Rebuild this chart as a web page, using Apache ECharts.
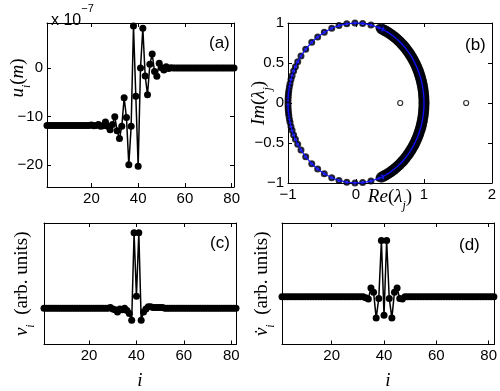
<!DOCTYPE html>
<html>
<head>
<meta charset="utf-8">
<script src="https://cdn.jsdelivr.net/npm/echarts/dist/echarts.min.js"></script>
<style>
  html, body { margin: 0; padding: 0; background: #fff; }
  #chart { width: 500px; height: 391px; }
</style>
</head>
<body>
<div id="chart"></div>
<script>
// (a) displacement u_i, in units of 1e-7 m, i = 1..81
const uVals = [
  -11.8, -11.8, -11.8, -11.8, -11.8, -11.8, -11.8, -11.8, -11.8, -11.8,
  -11.8, -11.8, -11.8, -11.8, -11.8, -11.8, -11.8, -11.8, -11.8, -11.7,
  -11.9, -11.8, -11.6, -12.0, -11.9, -11.1, -12.0, -12.7, -11.6, -10.0,
  -12.9, -14.5, -12.0, -6.1, -10.2, -19.9, -12.0, 8.7, -5.8, -20.2,
  0.0, 8.2, -1.6, -5.5, 0.8, 2.9, -0.7, -1.7, 1.0, 0.1,
  -0.4, 0.3, -0.1, 0.1, 0, 0, 0, 0, 0, 0,
  0, 0, 0, 0, 0, 0, 0, 0, 0, 0,
  0, 0, 0, 0, 0, 0, 0, 0, 0, 0,
  0
]
// (c) v_i, arbitrary units, i = 1..82
const vVals = [
  0, 0, 0, 0, 0, 0, 0, 0, 0, 0,
  0, 0, 0, 0, 0, 0, 0, 0, 0, 0,
  0, 0, 0, 0, 0, 0, 0, 0, 0.01, -0.01,
  -0.02, -0.05, -0.01, -0.02, 0.0, -0.03, -0.07, -0.16, 1.0, 0.16,
  1.0, -0.16, -0.05, -0.01, 0.02, 0.02, 0.01, 0.01, 0.01, 0.01,
  0.01, 0, 0, 0, 0, 0, 0, 0, 0, 0,
  0, 0, 0, 0, 0, 0, 0, 0, 0, 0,
  0, 0, 0, 0, 0, 0, 0, 0, 0, 0,
  0, 0
]
// (d) dv_i/dt, arbitrary units, i = 1..82
const vdotVals = [
  0, 0, 0, 0, 0, 0, 0, 0, 0, 0,
  0, 0, 0, 0, 0, 0, 0, 0, 0, 0,
  0, 0, 0, 0, 0, 0, 0, 0, 0, 0,
  0, 0, -0.02, -0.04, 0.155, 0.08, -0.38, -0.03, 1.0, -0.33,
  1.0, -0.03, -0.38, 0.08, 0.155, -0.03, -0.04, 0, 0, 0,
  0, 0, 0, 0, 0, 0, 0, 0, 0, 0,
  0, 0, 0, 0, 0, 0, 0, 0, 0, 0,
  0, 0, 0, 0, 0, 0, 0, 0, 0, 0,
  0, 0
]
// (b) Floquet multipliers on the unit circle, angles in degrees (upper half);
// the lower half is the complex conjugate set
const denseAngles = [
  0.5, 2, 3.6, 5, 6.4, 8, 9.5, 11, 12.6, 14, 15.5, 17, 18.6, 20, 21.5, 23,
  24.4, 26, 27.5, 29, 30.6, 32, 33.5, 35, 36.4, 38, 39.5, 41, 42.6, 44, 45.5,
  47, 48.5, 50, 51.6, 53, 54.5, 56, 57.4, 59, 60.5, 62, 63.6, 65, 66.5, 68
]
const sparseAngles = [
  70.3, 77.3, 84.4, 90.9, 97.8, 104.5, 110.9, 117.8, 124.3, 130.6, 137.7,
  144, 149, 153, 156.5, 160, 163, 166, 168.5, 171, 173, 175, 177, 179
]
// (b) the two real multipliers
const lamReal = [0.65, 1.62]

const iTicks = [20, 40, 60, 80]
const uTicks = [-20, -10, 0]

const idx = arr => arr.map((v, k) => [k + 1, v])
const toXY = a => [Math.cos(a * Math.PI / 180), Math.sin(a * Math.PI / 180)]
const both = arr => arr.concat(arr.map(a => -a))

const densePts = both(denseAngles).map(toXY)
const sparsePts = both(sparseAngles).map(toXY)
const circlePts = both(denseAngles.concat(sparseAngles)).sort((p, q) => p - q).map(toXY)

const tickFont = { color: '#000', fontSize: 15, fontFamily: 'Liberation Sans' }
const minus = v => String(v).replace('-', '\u2212')

const serifRich = {
  it: { fontFamily: 'Liberation Serif', fontStyle: 'italic', fontSize: 19, lineHeight: 30, color: '#000' },
  rm: { fontFamily: 'Liberation Serif', fontSize: 19, lineHeight: 30, color: '#000' },
  sub: { fontFamily: 'Liberation Serif', fontStyle: 'italic', fontSize: 12, lineHeight: 30, verticalAlign: 'bottom', color: '#000' }
}

function xAx(grid, min, max, opts) {
  return Object.assign({
    gridIndex: grid, type: 'value', min: min, max: max, position: 'bottom',
    nameMoveOverlap: false,
    axisLine: { show: true, onZero: false, lineStyle: { color: '#000', width: 1 } },
    axisTick: { show: true, inside: true, length: 4, lineStyle: { color: '#000' } },
    axisLabel: { show: true, margin: 4, ...tickFont, formatter: minus },
    splitLine: { show: false }
  }, opts)
}
function yAx(grid, min, max, opts) {
  return Object.assign({
    gridIndex: grid, type: 'value', min: min, max: max, position: 'left',
    nameMoveOverlap: false,
    axisLine: { show: true, onZero: false, lineStyle: { color: '#000', width: 1 } },
    axisTick: { show: true, inside: true, length: 4, lineStyle: { color: '#000' } },
    axisLabel: { show: true, margin: 4, ...tickFont, formatter: minus },
    splitLine: { show: false }
  }, opts)
}

const iTickOpts = {
  axisTick: { show: true, inside: true, length: 4, customValues: iTicks, lineStyle: { color: '#000' } },
  axisLabel: { show: true, margin: 4, ...tickFont, customValues: iTicks }
}
const panelFont = { fontSize: 17, fontWeight: 'normal', fontFamily: 'Liberation Sans', color: '#000' }

const chart = echarts.init(document.getElementById('chart'))
chart.setOption({
  animation: false,
  backgroundColor: '#fff',
  title: [
    { text: '(a)', left: 204, top: 30, textStyle: panelFont },
    { text: '(b)', left: 460, top: 32, textStyle: panelFont },
    { text: '(c)', left: 205, top: 230, textStyle: panelFont },
    { text: '(d)', left: 454, top: 232, textStyle: panelFont },
    {
      text: '{a|x 10}{b|\u22127}', left: 46, top: -2,
      textStyle: {
        fontWeight: 'normal',
        rich: {
          a: { fontSize: 16, fontWeight: 'normal', fontFamily: 'Liberation Sans', color: '#000', lineHeight: 26, verticalAlign: 'bottom' },
          b: { fontSize: 11, fontWeight: 'normal', fontFamily: 'Liberation Sans', color: '#000', lineHeight: 26, verticalAlign: 'top' }
        }
      }
    }
  ],
  grid: [
    { left: 47, top: 23, width: 187, height: 164 },
    { left: 288, top: 23, width: 204, height: 160 },
    { left: 44, top: 223, width: 192, height: 130 },
    { left: 282, top: 223, width: 215, height: 131 }
  ],
  xAxis: [
    xAx(0, 1, 81, iTickOpts),
    xAx(1, -1, 2, {
      interval: 1,
      name: '{it|Re}{rm|(}{it|\u03bb}{sub|j}{rm|)}', nameLocation: 'middle', nameGap: -1,
      nameTextStyle: { rich: serifRich }
    }),
    xAx(2, 1, 82, Object.assign({
      name: '{it|i}', nameLocation: 'middle', nameGap: 21, nameTextStyle: { rich: serifRich }
    }, iTickOpts)),
    xAx(3, 1, 82, Object.assign({
      name: '{it|i}', nameLocation: 'middle', nameGap: 21, nameTextStyle: { rich: serifRich }
    }, iTickOpts)),
    // mirrored top axes (box + ticks)
    xAx(0, 1, 81, { position: 'top', axisTick: iTickOpts.axisTick, axisLabel: { show: false } }),
    xAx(1, -1, 2, { position: 'top', interval: 1, axisLabel: { show: false } }),
    xAx(2, 1, 82, { position: 'top', axisTick: iTickOpts.axisTick, axisLabel: { show: false } }),
    xAx(3, 1, 82, { position: 'top', axisTick: iTickOpts.axisTick, axisLabel: { show: false } })
  ],
  yAxis: [
    yAx(0, -24.5, 9.3, {
      axisTick: { show: true, inside: true, length: 4, customValues: uTicks, lineStyle: { color: '#000' } },
      axisLabel: { show: true, margin: 4, ...tickFont, customValues: uTicks, formatter: minus },
      name: '{it|u}{sub|i}{rm|(}{it|m}{rm|)}', nameLocation: 'middle', nameGap: 14,
      nameTextStyle: { rich: serifRich, padding: [0, 0, 0, 54] }
    }),
    yAx(1, -1, 1, {
      interval: 0.5,
      name: '{it|Im}{rm|(}{it|\u03bb}{sub|j}{rm|)}', nameLocation: 'middle', nameGap: 14,
      nameTextStyle: { rich: serifRich }
    }),
    yAx(2, -0.48, 1.13, {
      axisTick: { show: false }, axisLabel: { show: false },
      name: '{it|v}{sub|i}{rm|  (arb. units)}', nameLocation: 'middle', nameGap: 7,
      nameTextStyle: { rich: serifRich }
    }),
    yAx(3, -0.85, 1.31, {
      axisTick: { show: false }, axisLabel: { show: false },
      name: '{it|v\u0307}{sub|i}{rm|  (arb. units)}', nameLocation: 'middle', nameGap: 5,
      nameTextStyle: { rich: serifRich }
    }),
    yAx(0, -24.5, 9.3, {
      position: 'right',
      axisTick: { show: true, inside: true, length: 4, customValues: uTicks, lineStyle: { color: '#000' } },
      axisLabel: { show: false }
    }),
    yAx(1, -1, 1, { position: 'right', interval: 0.5, axisLabel: { show: false } }),
    yAx(2, -0.48, 1.13, { position: 'right', axisTick: { show: false }, axisLabel: { show: false } }),
    yAx(3, -0.85, 1.31, { position: 'right', axisTick: { show: false }, axisLabel: { show: false } })
  ],
  series: [
    {
      type: 'line', xAxisIndex: 0, yAxisIndex: 0, data: idx(uVals),
      symbol: 'circle', symbolSize: 7, clip: false,
      lineStyle: { color: '#000', width: 1.5 }, itemStyle: { color: '#000' }
    },
    {
      type: 'line', xAxisIndex: 1, yAxisIndex: 1, data: circlePts,
      showSymbol: false, clip: false,
      lineStyle: { color: '#1010ff', width: 1.2 }
    },
    {
      type: 'scatter', xAxisIndex: 1, yAxisIndex: 1, data: densePts,
      symbol: 'circle', symbolSize: 8, clip: false,
      itemStyle: { color: '#1a1aff', borderColor: '#000', borderWidth: 3 }
    },
    {
      type: 'scatter', xAxisIndex: 1, yAxisIndex: 1, data: sparsePts,
      symbol: 'circle', symbolSize: 5, clip: false,
      itemStyle: { color: '#1a1aff', borderColor: '#000', borderWidth: 2 }
    },
    {
      type: 'scatter', xAxisIndex: 1, yAxisIndex: 1, data: lamReal.map(r => [r, 0]),
      symbol: 'circle', symbolSize: 5,
      itemStyle: { color: '#fff', borderColor: '#000', borderWidth: 1.2 }
    },
    {
      type: 'line', xAxisIndex: 2, yAxisIndex: 2, data: idx(vVals),
      symbol: 'circle', symbolSize: 7, clip: false,
      lineStyle: { color: '#000', width: 1.5 }, itemStyle: { color: '#000' }
    },
    {
      type: 'line', xAxisIndex: 3, yAxisIndex: 3, data: idx(vdotVals),
      symbol: 'circle', symbolSize: 7, clip: false,
      lineStyle: { color: '#000', width: 1.5 }, itemStyle: { color: '#000' }
    }
  ]
})
</script>
</body>
</html>
